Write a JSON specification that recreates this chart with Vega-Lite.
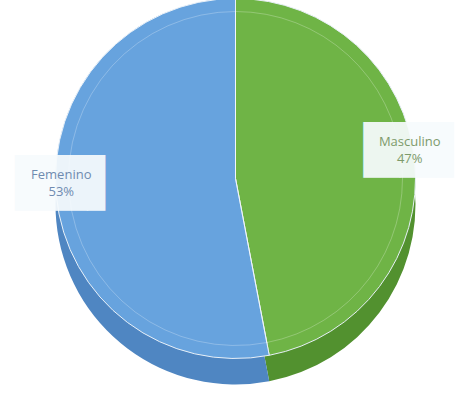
{
  "$schema": "https://vega.github.io/schema/vega-lite/v6.json",
  "width": 472,
  "height": 394,
  "autosize": {"type": "fit", "contains": "padding"},
  "padding": {"top": 2, "bottom": 30, "left": 0, "right": 0},
  "background": "#ffffff",
  "view": {"stroke": null},
  "data": {
    "values": [
      {"genero": "Masculino", "pct": 47, "orden": 1},
      {"genero": "Femenino", "pct": 53, "orden": 2}
    ]
  },
  "transform": [
    {"calculate": "datum.genero + '\\n' + datum.pct + '%'", "as": "etiqueta"}
  ],
  "encoding": {
    "theta": {"field": "pct", "type": "quantitative", "stack": true},
    "order": {"field": "orden", "type": "ordinal"}
  },
  "layer": [
    {
      "mark": {"type": "arc", "outerRadius": 180, "yOffset": 26},
      "encoding": {
        "color": {"field": "genero", "type": "nominal", "legend": null,
          "scale": {"domain": ["Masculino", "Femenino"], "range": ["#52912f", "#4f86c2"]}}
      }
    },
    {
      "mark": {"type": "arc", "outerRadius": 180, "stroke": "#e8f0f8", "strokeWidth": 1},
      "encoding": {
        "color": {"field": "genero", "type": "nominal", "legend": null,
          "scale": {"domain": ["Masculino", "Femenino"], "range": ["#6fb446", "#67a3de"]}}
      }
    },
    {
      "mark": {"type": "arc", "outerRadius": 167, "fillOpacity": 0, "stroke": "#ffffff", "strokeOpacity": 0.25, "strokeWidth": 1},
      "encoding": {}
    },
    {
      "mark": {"type": "text", "radius": 175, "font": "DejaVu Sans", "fontSize": 47, "baseline": "middle", "align": "center", "dy": -10, "dx": 8, "opacity": 0.93},
      "encoding": {
        "text": {"value": "██▌"},
        "color": {"value": "#f7fbfd"}
      }
    },
    {
      "mark": {"type": "text", "radius": 175, "font": "Open Sans", "fontSize": 13, "lineBreak": "\n", "lineHeight": 17, "baseline": "middle", "align": "center", "dy": -20},
      "encoding": {
        "text": {"field": "etiqueta"},
        "color": {"field": "genero", "type": "nominal", "legend": null,
          "scale": {"domain": ["Masculino", "Femenino"], "range": ["#7d9a6b", "#6f8bb0"]}}
      }
    }
  ],
  "resolve": {"scale": {"color": "independent"}}
}
